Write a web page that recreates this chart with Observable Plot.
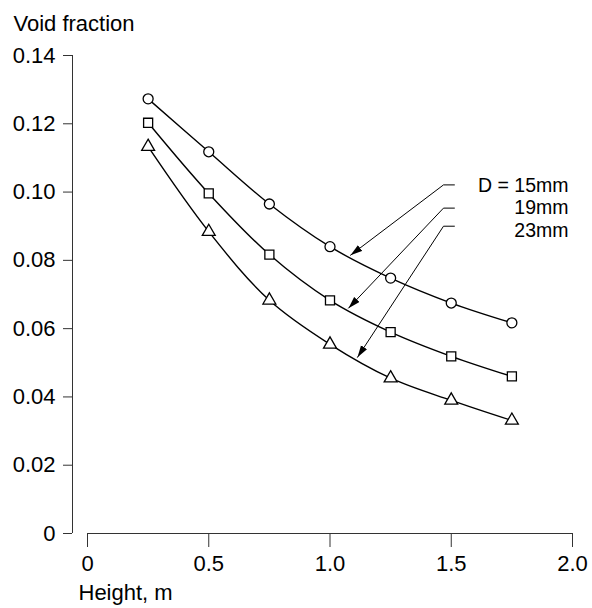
<!DOCTYPE html>
<html>
<head>
<meta charset="utf-8">
<script src="https://cdn.jsdelivr.net/npm/d3@7"></script>
<script src="https://cdn.jsdelivr.net/npm/@observablehq/plot@0.6"></script>
<style>
  html, body { margin: 0; padding: 0; background: white; }
</style>
</head>
<body>
<div id="chart"></div>
<script>
// ---- data ----
const heights = [0.25, 0.5, 0.75, 1.0, 1.25, 1.5, 1.75];
const void15 = [0.1273, 0.1118, 0.0965, 0.0840, 0.0748, 0.0675, 0.0617];
const void19 = [0.1203, 0.0996, 0.0817, 0.0683, 0.0590, 0.0519, 0.0460];
const void23 = [0.1133, 0.0884, 0.0683, 0.0554, 0.0455, 0.0390, 0.0331];
const seriesNames = ["15mm", "19mm", "23mm"];
const symbols = ["circle", "square", "triangle"];
const symbolRadius = [5, 5.1, 4.8];

const xTicks = [0, 0.5, 1.0, 1.5, 2.0];
const yTicks = [0, 0.02, 0.04, 0.06, 0.08, 0.10, 0.12, 0.14];

// annotation labels and leader lines (data coordinates)
const labelTexts = ["D = 15mm", "19mm", "23mm"];
const labelY = [0.1019, 0.0953, 0.0887];
const labelX = 1.9835;
const leaderStartX = 1.513;
const leaderBendX = 1.468;
const leaderY = [0.1021, 0.0953, 0.0900];
const tipX = [1.0845, 1.0763, 1.1134];
const tipY = [0.0815, 0.0660, 0.0516];

// ---- build tables ----
const allVoids = [void15, void19, void23];
const points = [];
seriesNames.forEach((s, k) => heights.forEach((h, i) => points.push({series: s, k, symbol: symbols[k], x: h, y: allVoids[k][i]})));

const leaders = [];
labelTexts.forEach((t, k) => {
  leaders.push({k, x: leaderStartX, y: leaderY[k]});
  leaders.push({k, x: leaderBendX, y: leaderY[k]});
  leaders.push({k, x: tipX[k], y: tipY[k]});
});
const labels = labelTexts.map((t, k) => ({text: t, x: labelX, y: labelY[k]}));

function filledArrow(color, context) {
  const doc = (context && context.document) || document;
  const ns = "http://www.w3.org/2000/svg";
  const m = doc.createElementNS(ns, "marker");
  m.setAttribute("viewBox", "-12 -4 12 8");
  m.setAttribute("markerWidth", "12");
  m.setAttribute("markerHeight", "8");
  m.setAttribute("markerUnits", "userSpaceOnUse");
  m.setAttribute("orient", "auto");
  m.setAttribute("refX", "0");
  m.setAttribute("refY", "0");
  const p = doc.createElementNS(ns, "path");
  p.setAttribute("d", "M-12,-3.6L0,0L-12,3.6Z");
  p.setAttribute("fill", "black");
  p.setAttribute("stroke", "none");
  m.appendChild(p);
  return m;
}

const fmtY = d => d === 0 ? "0" : d.toFixed(2);
const fmtX = d => d === 0 ? "0" : d.toFixed(1);
const FS = 22;
const FS_LABEL = 19.5;

const dotMarks = symbols.map((sym, k) =>
  Plot.dot(points.filter(p => p.k === k), {x: "x", y: "y", symbol: sym, r: symbolRadius[k], fill: "white", stroke: "black", strokeWidth: 1.3})
);

const chart = Plot.plot({
  width: 592,
  height: 608,
  marginLeft: 87,
  marginRight: 20,
  marginTop: 55,
  marginBottom: 75,
  x: {domain: [0, 2]},
  y: {domain: [0, 0.14]},
  style: {fontFamily: "'Liberation Sans', Arial, sans-serif", fontSize: FS + "px", color: "black", background: "white"},
  marks: [
    Plot.axisY({ticks: yTicks, tickFormat: fmtY, tickSize: 9, tickPadding: 8, dx: -15, label: null, stroke: "#333", fill: "black", fontSize: FS}),
    Plot.ruleX([0], {y1: 0, y2: 0.14, dx: -15, stroke: "#333"}),
    Plot.axisX({ticks: xTicks, tickFormat: fmtX, tickSize: 14, tickPadding: 8, label: null, stroke: "#333", fill: "black", fontSize: FS}),
    Plot.ruleY([0], {x1: 0, x2: 2, stroke: "#333"}),
    Plot.line(points, {x: "x", y: "y", z: "series", curve: "catmull-rom", stroke: "black", strokeWidth: 1.4}),
    Plot.line(leaders, {x: "x", y: "y", z: "k", stroke: "black", strokeWidth: 1, markerEnd: filledArrow}),
    ...dotMarks,
    Plot.text(labels, {x: "x", y: "y", text: "text", textAnchor: "end", lineAnchor: "middle", fontSize: FS_LABEL, fill: "black"}),
    Plot.text(["Void fraction"], {text: d => d, frameAnchor: "top-left", dx: -74, dy: -25, textAnchor: "start", lineAnchor: "bottom", fontSize: FS, fill: "black"}),
    Plot.text(["Height, m"], {text: d => d, frameAnchor: "bottom-left", dx: -9, dy: 66, textAnchor: "start", lineAnchor: "bottom", fontSize: FS, fill: "black"})
  ]
});
document.getElementById("chart").appendChild(chart);
</script>
</body>
</html>
